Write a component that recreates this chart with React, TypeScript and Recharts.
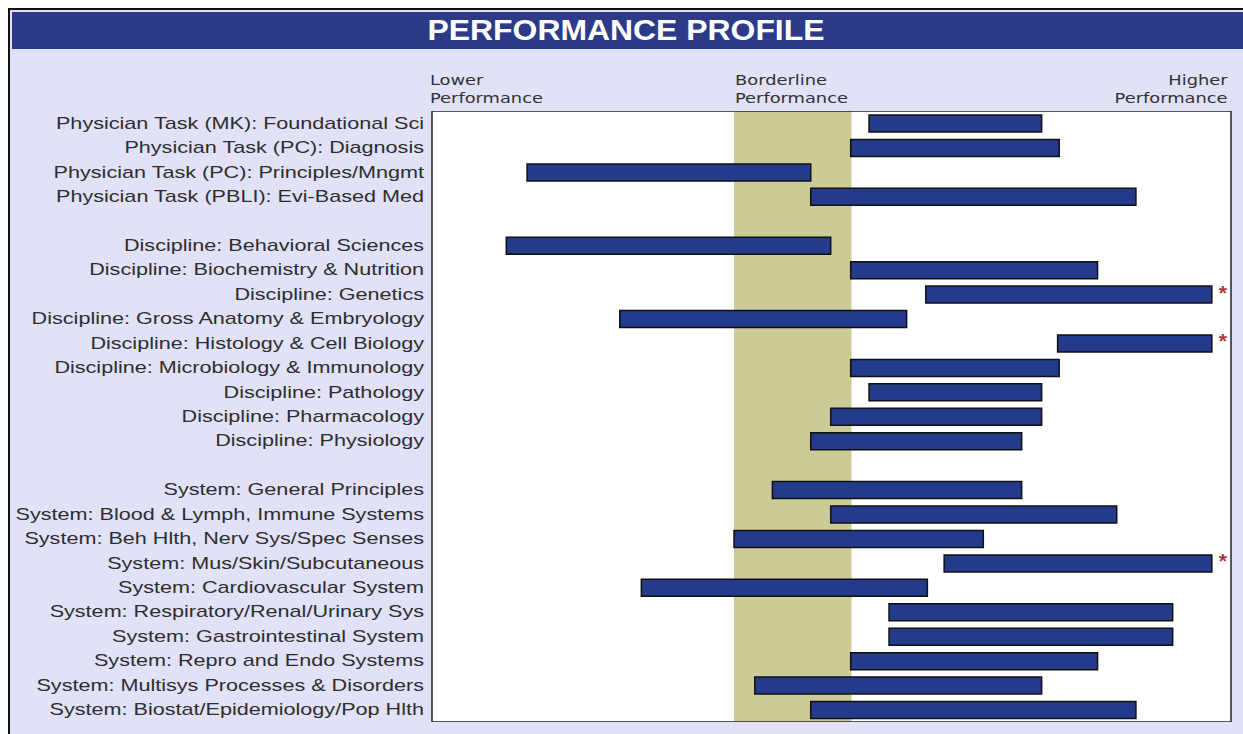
import React from "react";
import { BarChart, Bar, XAxis, YAxis, ReferenceArea, LabelList } from "recharts";

// score scale 0..100, left = lower performance
const physicianLabels = [
  "Physician Task (MK): Foundational Sci",
  "Physician Task (PC): Diagnosis",
  "Physician Task (PC): Principles/Mngmt",
  "Physician Task (PBLI): Evi-Based Med",
];
const physicianLow = [54.7, 52.4, 11.9, 47.4];
const physicianHigh = [76.3, 78.5, 47.4, 88.1];

const disciplineLabels = [
  "Discipline: Behavioral Sciences",
  "Discipline: Biochemistry & Nutrition",
  "Discipline: Genetics",
  "Discipline: Gross Anatomy & Embryology",
  "Discipline: Histology & Cell Biology",
  "Discipline: Microbiology & Immunology",
  "Discipline: Pathology",
  "Discipline: Pharmacology",
  "Discipline: Physiology",
];
const disciplineLow = [9.3, 52.4, 61.8, 23.5, 78.3, 52.4, 54.7, 49.9, 47.4];
const disciplineHigh = [49.9, 83.3, 97.6, 59.4, 97.6, 78.5, 76.3, 76.3, 73.8];

const systemLabels = [
  "System: General Principles",
  "System: Blood & Lymph, Immune Systems",
  "System: Beh Hlth, Nerv Sys/Spec Senses",
  "System: Mus/Skin/Subcutaneous",
  "System: Cardiovascular System",
  "System: Respiratory/Renal/Urinary Sys",
  "System: Gastrointestinal System",
  "System: Repro and Endo Systems",
  "System: Multisys Processes & Disorders",
  "System: Biostat/Epidemiology/Pop Hlth",
];
const systemLow = [42.6, 49.9, 37.8, 64.1, 26.2, 57.2, 57.2, 52.4, 40.4, 47.4];
const systemHigh = [73.8, 85.7, 69.0, 97.6, 62.0, 92.7, 92.7, 83.3, 76.3, 88.1];

const flagged = [
  "Discipline: Genetics",
  "Discipline: Histology & Cell Biology",
  "System: Mus/Skin/Subcutaneous",
];

const borderlineLow = 37.8;
const borderlineHigh = 52.5;

type Row = { key: string; label: string; range: [number, number] | null; star: string | null };

const groups = [
  { labels: physicianLabels, low: physicianLow, high: physicianHigh },
  { labels: disciplineLabels, low: disciplineLow, high: disciplineHigh },
  { labels: systemLabels, low: systemLow, high: systemHigh },
];

const rows: Row[] = [];
groups.forEach((g, gi) => {
  if (gi > 0) rows.push({ key: `gap${gi}`, label: "", range: null, star: null });
  g.labels.forEach((label, i) => {
    rows.push({
      key: `r${rows.length}`,
      label,
      range: [g.low[i], g.high[i]],
      star: flagged.includes(label) ? "*" : null,
    });
  });
});

// the source image is stretched sideways, so text is too
const SX = 1.35;
const HEAD_SX = 1.32;

function LabelTick(props: any) {
  const { x, y, payload } = props;
  const label = rows[payload.index]?.label ?? "";
  return (
    <g transform={`translate(${x},${y}) scale(${SX},1)`}>
      <text
        textAnchor="end"
        dominantBaseline="central"
        fontFamily="'Liberation Sans', Arial, sans-serif"
        fontSize={16}
        fill="#2e2e2e"
      >
        {label}
      </text>
    </g>
  );
}

function Star(props: any) {
  const { x, y, width, height, value } = props;
  if (!value) return null;
  return (
    <text
      x={x + width + 11}
      y={y + height / 2 + 5}
      textAnchor="middle"
      fontFamily="'Liberation Sans', Arial, sans-serif"
      fontSize={21}
      fontWeight="bold"
      fill="#a83838"
    >
      {value}
    </text>
  );
}

const headerStyle: React.CSSProperties = {
  position: "absolute",
  top: 61,
  fontFamily: "'DejaVu Sans', Verdana, sans-serif",
  fontSize: 13.5,
  lineHeight: "18px",
  color: "#333",
  whiteSpace: "nowrap",
};

export default function App() {
  return (
    <div style={{ position: "fixed", left: 8, top: 8, width: 1235, height: 726, overflow: "hidden" }}>
      <div
        style={{
          position: "relative",
          width: 1250,
          height: 740,
          background: "#e1e1f8",
          borderTop: "2px solid #111",
          borderLeft: "2px solid #111",
          boxSizing: "border-box",
        }}
      >
        <div
          style={{
            position: "absolute",
            left: 2,
            top: 2,
            width: 1240,
            height: 37,
            background: "#2c3a87",
          }}
        >
          <div
            style={{
              width: 1228,
              textAlign: "center",
              color: "#fff",
              fontFamily: "'Liberation Sans', Arial, sans-serif",
              fontWeight: "bold",
              fontSize: 29,
              lineHeight: "36px",
              transform: "scaleX(1.1)",
              transformOrigin: "614px 50%",
            }}
          >
            PERFORMANCE PROFILE
          </div>
        </div>

        <div style={{ ...headerStyle, left: 420, transform: `scaleX(${HEAD_SX})`, transformOrigin: "left" }}>
          Lower
          <br />
          Performance
        </div>
        <div style={{ ...headerStyle, left: 725, transform: `scaleX(${HEAD_SX})`, transformOrigin: "left" }}>
          Borderline
          <br />
          Performance
        </div>
        <div
          style={{
            ...headerStyle,
            right: 1250 - 2 - 1218,
            textAlign: "right",
            transform: `scaleX(${HEAD_SX})`,
            transformOrigin: "right",
          }}
        >
          Higher
          <br />
          Performance
        </div>

        <div style={{ position: "absolute", left: 0, top: 101 }}>
          <BarChart
            width={1233}
            height={611}
            data={rows}
            layout="vertical"
            margin={{ top: 0, right: 12, bottom: 0, left: 0 }}
          >
            <XAxis type="number" domain={[0, 100]} hide />
            <YAxis
              type="category"
              dataKey="key"
              width={422}
              axisLine={false}
              tickLine={false}
              interval={0}
              tick={<LabelTick />}
            />
            <ReferenceArea x1={0} x2={100} fill="#ffffff" fillOpacity={1} stroke="none" />
            <ReferenceArea x1={borderlineLow} x2={borderlineHigh} fill="#cbcb98" fillOpacity={1} stroke="none" />
            <ReferenceArea x1={0} x2={100} fill="none" stroke="#222" strokeWidth={1.5} />
            <Bar
              dataKey="range"
              barSize={17}
              fill="#243a8b"
              stroke="#111"
              strokeWidth={1.5}
              isAnimationActive={false}
            >
              <LabelList dataKey="star" content={<Star />} />
            </Bar>
          </BarChart>
        </div>
      </div>
    </div>
  );
}
